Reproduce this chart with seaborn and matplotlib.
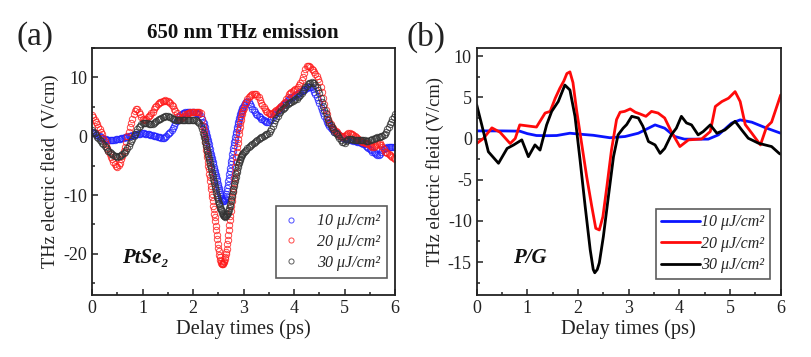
import numpy as np
import pandas as pd
import matplotlib
matplotlib.use("Agg")
import matplotlib.pyplot as plt
from matplotlib.ticker import MultipleLocator
import seaborn as sns

sns.set_theme(style="ticks")
plt.rcParams['font.family'] = ['Liberation Serif', 'DejaVu Serif']
plt.rcParams['axes.unicode_minus'] = False

# ---------------- Panel (a): PtSe2 ----------------
# sample times: 0-2.175 ps every 0.025, 2.20-3.00 every 0.01, 3.025-6.0 every 0.025
t_seg1 = np.round(np.arange(88) * 0.025, 3)
t_seg2 = np.round(2.20 + np.arange(81) * 0.01, 3)
t_seg3 = np.round(3.025 + np.arange(120) * 0.025, 3)

ptse2_10_s1 = [0.7, 0.6, 0.5, 0.35, 0.2, 0.1, 0.0, -0.15, -0.3, -0.4,
               -0.5, -0.55, -0.6, -0.65, -0.7, -0.7, -0.65, -0.62, -0.6, -0.55,
               -0.5, -0.45, -0.4, -0.35, -0.3, -0.22, -0.15, -0.1, -0.05, 0.0,
               0.05, 0.1, 0.15, 0.2, 0.25, 0.3, 0.35, 0.4, 0.45, 0.48,
               0.5, 0.48, 0.45, 0.4, 0.35, 0.3, 0.25, 0.22, 0.2, 0.12,
               0.05, -0.02, -0.1, -0.15, -0.2, -0.25, -0.3, -0.25, -0.1, 0.1,
               0.3, 0.5, 0.7, 1.0, 1.4, 1.8, 2.2, 2.6, 3.0, 3.3,
               3.6, 3.75, 3.9, 4.0, 4.1, 4.15, 4.2, 4.2, 4.2, 4.15,
               4.1, 4.05, 4.0, 3.9, 3.8, 3.7, 3.5, 3.0]
ptse2_10_s2 = [2.5, 2.2, 1.8, 1.5, 1.1, 0.8, 0.4, 0.1, -0.3, -0.6,
               -1.0, -1.4, -1.8, -2.2, -2.6, -3.0, -3.35, -3.7, -4.1, -4.45,
               -4.8, -5.15, -5.5, -5.9, -6.25, -6.6, -7.0, -7.35, -7.7, -8.1,
               -8.5, -8.85, -9.2, -9.55, -9.9, -10.2, -10.45, -10.7, -10.9, -11.05,
               -11.1, -11.05, -10.9, -10.7, -10.5, -10.2, -9.8, -9.3, -8.8, -8.25,
               -7.7, -7.1, -6.5, -5.9, -5.35, -4.8, -4.25, -3.7, -3.1, -2.55,
               -2.0, -1.5, -1.05, -0.6, -0.15, 0.3, 0.75, 1.2, 1.6, 2.0,
               2.4, 2.75, 3.1, 3.4, 3.7, 4.0, 4.25, 4.5, 4.75, 5.05,
               5.3]
ptse2_10_s3 = [5.6, 5.9, 6.0, 5.8, 5.5, 5.1, 4.7, 4.4, 4.1, 3.85,
               3.6, 3.4, 3.2, 3.0, 2.85, 2.7, 2.6, 2.5, 2.45, 2.5,
               2.7, 3.0, 3.3, 3.6, 3.85, 4.1, 4.35, 4.6, 4.85, 5.1,
               5.3, 5.5, 5.7, 5.9, 6.1, 6.3, 6.45, 6.6, 6.75, 6.9,
               7.0, 7.1, 7.25, 7.4, 7.55, 7.7, 7.8, 7.9, 8.05, 8.2,
               8.3, 8.4, 8.45, 8.3, 8.0, 7.6, 7.2, 6.7, 6.15, 5.6,
               5.05, 4.5, 3.95, 3.4, 2.95, 2.5, 2.1, 1.7, 1.45, 1.2,
               1.0, 0.8, 0.65, 0.5, 0.35, 0.2, 0.05, -0.1, -0.25, -0.4,
               -0.45, -0.5, -0.55, -0.6, -0.65, -0.7, -0.75, -0.8, -0.85, -0.9,
               -0.95, -1.0, -1.1, -1.2, -1.3, -1.4, -1.6, -1.8, -2.0, -2.2,
               -2.4, -2.6, -2.75, -2.9, -3.05, -3.2, -3.15, -3.0, -2.7, -2.4,
               -2.2, -2.0, -1.95, -1.9, -1.9, -1.9, -1.85, -1.8, -1.8, -1.8]

ptse2_20_s1 = [3.6, 3.2, 2.8, 2.4, 2.0, 1.6, 1.2, 0.75, 0.3, -0.25,
               -0.8, -1.4, -2.0, -2.5, -3.0, -3.45, -3.9, -4.3, -4.7, -5.0,
               -5.2, -4.9, -4.5, -3.9, -3.3, -2.55, -1.8, -0.9, 0.0, 0.75,
               1.5, 2.25, 3.0, 3.7, 4.3, 4.6, 4.6, 4.2, 3.8, 3.3,
               2.9, 2.8, 2.8, 3.0, 3.2, 3.4, 3.6, 3.9, 4.2, 4.55,
               4.9, 5.15, 5.4, 5.6, 5.8, 5.9, 6.0, 6.05, 6.1, 6.05,
               6.0, 5.8, 5.6, 5.35, 5.1, 4.7, 4.3, 3.9, 3.5, 3.2,
               3.0, 3.15, 3.3, 3.5, 3.7, 3.8, 3.9, 4.0, 4.1, 4.15,
               4.2, 4.2, 4.2, 4.2, 4.15, 4.1, 3.9, 3.0]
ptse2_20_s2 = [1.8, 1.1, 0.4, -0.3, -1.0, -1.65, -2.3, -2.95, -3.6, -4.3,
               -5.0, -5.65, -6.35, -7.0, -7.7, -8.4, -9.05, -9.75, -10.4, -11.1,
               -11.8, -12.45, -13.15, -13.8, -14.5, -15.25, -16.0, -16.8, -17.55, -18.3,
               -19.0, -19.6, -20.15, -20.6, -21.0, -21.3, -21.55, -21.7, -21.8, -21.75,
               -21.6, -21.4, -21.15, -20.85, -20.5, -20.1, -19.65, -19.1, -18.4, -17.6,
               -16.8, -15.95, -15.1, -14.3, -13.5, -12.7, -11.9, -11.1, -10.3, -9.55,
               -8.8, -7.95, -7.1, -6.2, -5.2, -4.4, -3.5, -2.7, -1.9, -1.1,
               -0.4, 0.3, 1.0, 1.6, 2.2, 2.75, 3.25, 3.7, 4.1, 4.45,
               4.8]
ptse2_20_s3 = [5.4, 5.9, 6.3, 6.7, 6.9, 7.0, 7.1, 7.1, 7.1, 7.1,
               6.9, 6.6, 6.15, 5.7, 5.3, 4.9, 4.6, 4.3, 4.1, 3.9,
               3.8, 3.8, 3.95, 4.1, 4.25, 4.4, 4.6, 4.8, 5.0, 5.2,
               5.4, 5.6, 5.9, 6.3, 6.75, 7.2, 7.4, 7.6, 7.75, 7.9,
               8.0, 8.1, 8.4, 8.7, 9.1, 9.5, 10.1, 10.8, 11.5, 12.0,
               12.0, 11.9, 11.7, 11.5, 11.25, 11.0, 10.6, 10.2, 9.7, 9.2,
               8.4, 7.5, 6.45, 5.4, 4.5, 3.7, 3.0, 2.4, 2.0, 1.6,
               1.35, 1.1, 0.9, 0.7, 0.45, 0.2, 0.0, -0.1, 0.0, 0.1,
               0.25, 0.4, 0.5, 0.5, 0.4, 0.3, 0.15, 0.0, -0.15, -0.3,
               -0.45, -0.6, -0.75, -0.9, -1.0, -1.1, -1.15, -1.2, -1.35, -1.5,
               -1.65, -1.8, -1.75, -1.7, -1.55, -1.4, -1.3, -1.2, -1.5, -1.8,
               -2.2, -2.6, -2.75, -2.9, -3.05, -3.2, -3.35, -3.5, -3.65, -3.8]

ptse2_30_s1 = [1.0, 0.75, 0.5, 0.2, -0.1, -0.35, -0.6, -0.85, -1.1, -1.35,
               -1.6, -1.9, -2.2, -2.45, -2.7, -2.85, -3.0, -3.15, -3.3, -3.4,
               -3.5, -3.4, -3.3, -3.15, -3.0, -2.85, -2.7, -2.35, -2.0, -1.6,
               -1.2, -0.8, -0.4, 0.0, 0.4, 0.8, 1.2, 1.5, 1.8, 2.0,
               2.2, 2.25, 2.3, 2.25, 2.2, 2.1, 2.0, 2.05, 2.1, 2.25,
               2.4, 2.55, 2.7, 2.85, 3.0, 3.1, 3.2, 3.3, 3.4, 3.4,
               3.4, 3.3, 3.2, 3.1, 3.0, 2.9, 2.8, 2.8, 2.8, 2.75,
               2.7, 2.7, 2.7, 2.7, 2.7, 2.7, 2.7, 2.7, 2.7, 2.7,
               2.7, 2.7, 2.7, 2.65, 2.5, 2.2, 1.8, 1.2]
ptse2_30_s2 = [0.5, 0.15, -0.2, -0.55, -0.9, -1.3, -1.7, -2.1, -2.5, -2.9,
               -3.3, -3.7, -4.05, -4.45, -4.85, -5.25, -5.6, -6.0, -6.4, -6.8,
               -7.2, -7.6, -8.0, -8.4, -8.8, -9.2, -9.6, -10.0, -10.35, -10.7,
               -11.0, -11.3, -11.6, -11.9, -12.15, -12.4, -12.6, -12.8, -13.0, -13.2,
               -13.4, -13.55, -13.65, -13.7, -13.65, -13.55, -13.45, -13.3, -13.15, -13.0,
               -12.8, -12.5, -12.2, -11.85, -11.5, -11.1, -10.7, -10.2, -9.75, -9.3,
               -8.9, -8.5, -8.1, -7.7, -7.3, -6.9, -6.5, -6.1, -5.7, -5.3,
               -4.9, -4.6, -4.3, -4.05, -3.8, -3.55, -3.35, -3.15, -3.0, -2.85,
               -2.7]
ptse2_30_s3 = [-2.5, -2.3, -2.05, -1.8, -1.6, -1.45, -1.3, -1.1, -0.95, -0.8,
               -0.65, -0.5, -0.35, -0.2, -0.1, 0.0, 0.15, 0.3, 0.45, 0.6,
               0.9, 1.3, 1.75, 2.2, 2.7, 3.1, 3.5, 3.9, 4.2, 4.4,
               4.6, 4.8, 5.05, 5.3, 5.45, 5.6, 5.75, 5.9, 6.0, 6.1,
               6.25, 6.4, 6.6, 6.8, 7.05, 7.3, 7.65, 8.0, 8.3, 8.6,
               8.8, 9.0, 9.1, 9.2, 9.1, 9.0, 8.75, 8.4, 7.9, 7.3,
               6.55, 5.8, 5.15, 4.5, 3.9, 3.3, 2.8, 2.3, 1.9, 1.5,
               1.15, 0.8, 0.55, 0.3, 0.0, -0.3, -0.6, -0.9, -1.05, -1.1,
               -0.85, -0.6, -0.5, -0.4, -0.45, -0.5, -0.6, -0.7, -0.7, -0.7,
               -0.65, -0.6, -0.6, -0.6, -0.65, -0.7, -0.75, -0.8, -0.75, -0.7,
               -0.6, -0.5, -0.4, -0.3, -0.25, -0.2, -0.15, -0.1, 0.0, 0.1,
               0.25, 0.4, 0.8, 1.2, 1.6, 2.0, 2.45, 2.9, 3.35, 3.8]

# ---------------- Panel (b): P/G ----------------
pg_10_t = [0, 0.5, 0.85, 1.0, 1.18, 1.4, 1.58, 1.84, 2.1, 2.3, 2.63, 2.93, 3.19,
           3.52, 3.71, 3.91, 4.1, 4.57, 4.77, 5.03, 5.2, 5.43, 5.69, 6.0]
pg_10 = [0.93, 0.93, 0.9, 0.6, 0.37, 0.35, 0.37, 0.65, 0.5, 0.4, 0.1, 0.25, 0.65,
         1.66, 1.26, 0.25, -0.07, -0.07, 0.45, 1.87, 2.27, 1.99, 1.34, 0.65]

pg_20_t = [0, 0.13, 0.3, 0.46, 0.66, 0.76, 0.85, 1.05, 1.18, 1.25, 1.35, 1.45, 1.55,
           1.64, 1.72, 1.78, 1.84, 1.90, 1.97, 2.07, 2.17, 2.27, 2.35, 2.42, 2.49,
           2.57, 2.66, 2.76, 2.83, 2.92, 3.03, 3.13, 3.22, 3.34, 3.45, 3.58, 3.71,
           3.84, 4.01, 4.18, 4.44, 4.61, 4.71, 4.84, 4.97, 5.1, 5.2, 5.3, 5.43,
           5.6, 5.72, 5.82, 6.0]
pg_20 = [-0.6, 0.0, 1.3, 0.77, -0.6, 0.0, 1.66, 1.5, 1.4, 2.1, 3.1, 3.3, 4.9,
         6.1, 7.0, 7.9, 8.1, 6.8, 3.5, -0.56, -4.6, -8.2, -10.9, -11.1, -9.5,
         -5.8, -1.4, 2.3, 3.2, 3.3, 3.6, 3.2, 3.0, 2.7, 3.3, 3.1, 2.5,
         0.85, -0.97, -0.16, -0.05, 0.85, 3.9, 4.5, 4.9, 5.7, 4.5, 1.7, 0.65,
         -0.77, 1.4, 2.0, 5.3]

pg_30_t = [0, 0.1, 0.23, 0.43, 0.6, 0.73, 0.89, 1.02, 1.15, 1.25, 1.38, 1.48, 1.61,
           1.74, 1.84, 1.94, 2.04, 2.14, 2.24, 2.30, 2.33, 2.38, 2.42, 2.50, 2.60,
           2.70, 2.79, 2.89, 2.96, 3.06, 3.19, 3.28, 3.39, 3.52, 3.62, 3.71, 3.84,
           3.94, 4.04, 4.14, 4.24, 4.37, 4.47, 4.61, 4.74, 4.9, 5.1, 5.23, 5.36,
           5.56, 5.69, 5.82, 5.97, 6.0]
pg_30 = [4.1, 1.66, -1.6, -3.0, -1.2, -0.77, -0.16, -2.2, -0.77, -1.4, 1.66, 3.3, 4.5,
         6.5, 5.9, 2.7, -2.6, -8.2, -13.5, -15.9, -16.3, -15.9, -15.1, -11.9, -7.0,
         -2.2, 0.45, 1.26, 1.7, 2.7, 2.5, 1.5, -0.36, -0.77, -1.8, -1.2, 0.45,
         1.26, 2.7, 1.9, 1.66, 0.45, 0.85, 1.66, 0.65, 1.05, 2.1, 1.05, 0.04,
         -0.56, -0.77, -0.97, -1.8, -1.9]

labels = ['10 \u03bcJ/cm\u00b2', '20 \u03bcJ/cm\u00b2', '30 \u03bcJ/cm\u00b2']
colors_a = ['#2020ff', '#ff1a1a', '#333333']
colors_b = ['#0a14ff', '#ff0a0a', '#000000']

t_a = np.concatenate([t_seg1, t_seg2, t_seg3])
series_a = [ptse2_10_s1 + ptse2_10_s2 + ptse2_10_s3,
            ptse2_20_s1 + ptse2_20_s2 + ptse2_20_s3,
            ptse2_30_s1 + ptse2_30_s2 + ptse2_30_s3]

fig = plt.figure(figsize=(8.11, 3.57), dpi=100)
ax1 = fig.add_axes([92 / 811, 1 - 295 / 357, (395 - 92) / 811, (295 - 48) / 357])
ax2 = fig.add_axes([476.7 / 811, 1 - 295 / 357, (780.7 - 476.7) / 811, (295 - 48) / 357])

for vals, lab, col in zip(series_a, labels, colors_a):
    sns.lineplot(x=t_a, y=vals, ax=ax1, linestyle='', marker='o', markersize=4.6,
                 markerfacecolor='none', markeredgecolor=col, markeredgewidth=0.7,
                 alpha=0.8, label=lab, estimator=None, sort=False)

series_b = [(pg_10_t, pg_10), (pg_20_t, pg_20), (pg_30_t, pg_30)]
for (tt, vals), lab, col in zip(series_b, labels, colors_b):
    sns.lineplot(x=tt, y=vals, ax=ax2, color=col, linewidth=2.0, label=lab,
                 estimator=None, sort=False)

for ax in (ax1, ax2):
    ax.set_xlim(0, 6)
    ax.xaxis.set_major_locator(MultipleLocator(1))
    ax.xaxis.set_minor_locator(MultipleLocator(0.5))
    ax.tick_params(which='both', direction='in', top=False, right=False,
                   labelsize=13, colors='#222222', width=1.1)
    ax.tick_params(which='major', length=4)
    ax.tick_params(which='minor', length=2.5)
    for sp in ax.spines.values():
        sp.set_visible(True)
        sp.set_linewidth(1.3)
        sp.set_color('#222222')
    ax.set_xlabel('Delay times (ps)', fontsize=14.7, color='#222222', labelpad=2)
    ax.grid(False)

ax1.set_ylim(-27, 15)
ax1.yaxis.set_major_locator(MultipleLocator(10))
ax1.yaxis.set_minor_locator(MultipleLocator(5))
ax1.set_ylabel('THz electric fleid  (V/cm)', fontsize=13.3, color='#222222', labelpad=3)

ax2.set_ylim(-19, 11)
ax2.yaxis.set_major_locator(MultipleLocator(5))
ax2.yaxis.set_minor_locator(MultipleLocator(2.5))
ax2.set_ylabel('THz electric fleid (V/cm)', fontsize=13.3, color='#222222', labelpad=3)

leg_font = {'family': ['Liberation Serif', 'DejaVu Serif'], 'style': 'italic', 'size': 11.5}

leg1 = ax1.legend(loc='lower right', bbox_to_anchor=(0.9736, 0.0688), borderaxespad=0,
                  prop=leg_font, frameon=True, fancybox=False,
                  handlelength=1.0, handletextpad=1.1, borderpad=0.45,
                  labelspacing=0.3, markerscale=0.8)
leg1.get_frame().set_edgecolor('#333333')
leg1.get_frame().set_linewidth(1.2)

leg2 = ax2.legend(loc='lower right', bbox_to_anchor=(0.9648, 0.0648), borderaxespad=0,
                  prop=leg_font, frameon=True, fancybox=False,
                  handlelength=2.4, handletextpad=0.1, borderpad=0.35,
                  labelspacing=0.35)
leg2.get_frame().set_edgecolor('#333333')
leg2.get_frame().set_linewidth(1.2)

ax1.text(0.1, 0.13, 'PtSe\u2082', transform=ax1.transAxes,
         fontsize=15, fontweight='bold', fontstyle='italic', color='#111111')
ax2.text(0.12, 0.13, 'P/G', transform=ax2.transAxes,
         fontsize=15, fontweight='bold', fontstyle='italic', color='#111111')

fig.text(17 / 811, 1 - 37 / 357, '(a)', fontsize=24, va='center', ha='left', color='#222222')
fig.text(407 / 811, 1 - 37 / 357, '(b)', fontsize=24, va='center', ha='left', color='#222222')
fig.text(243 / 811, 1 - 33 / 357, '650 nm THz emission', fontsize=15, fontweight='bold',
         va='center', ha='center', color='#111111')

fig.savefig('out.png', dpi=100)
